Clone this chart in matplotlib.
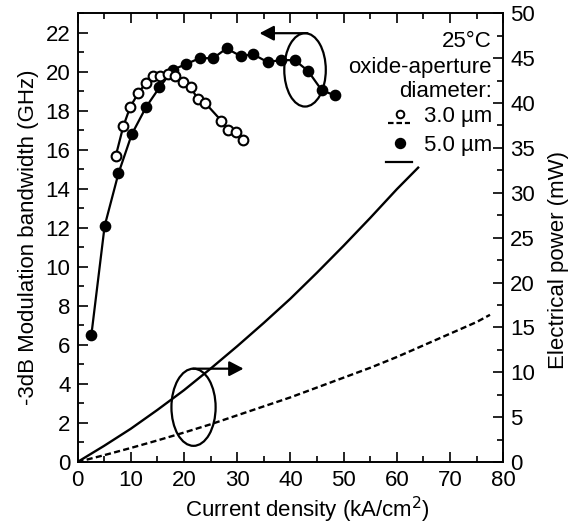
import matplotlib
matplotlib.use("Agg")
import matplotlib.pyplot as plt
from matplotlib.patches import Ellipse
from matplotlib.ticker import MultipleLocator

plt.rcParams['font.family'] = ['Liberation Sans', 'DejaVu Sans']
FS = 16

# ---- data: modulation bandwidth (left axis, GHz) ----
j_5um = [2.6, 5.1, 7.7, 10.2, 12.9, 15.4, 17.9, 20.4, 23.0, 25.5, 28.0, 30.7,
         33.0, 35.7, 38.2, 40.8, 43.3, 45.9, 48.3]
bw_5um = [6.5, 12.1, 14.8, 16.8, 18.2, 19.2, 20.1, 20.4, 20.7, 20.7, 21.2, 20.8,
          20.9, 20.5, 20.6, 20.6, 20.05, 19.05, 18.8]
j_3um = [7.2, 8.6, 9.9, 11.4, 12.9, 14.2, 15.5, 17.0, 18.4, 19.9, 21.3, 22.6,
         24.0, 27.0, 28.3, 29.7, 31.1]
bw_3um = [15.7, 17.2, 18.2, 18.9, 19.45, 19.8, 19.8, 19.9, 19.8, 19.5, 19.2,
          18.6, 18.4, 17.5, 17.0, 16.9, 16.5]

# ---- data: electrical power (right axis, mW) ----
jp_5um = [0, 5, 10, 15, 20, 25, 30, 35, 40, 45, 50, 55, 60, 64]
p_5um = [0, 1.8, 3.7, 5.8, 8.0, 10.4, 12.9, 15.5, 18.2, 21.1, 24.1, 27.2, 30.4, 32.8]
jp_3um = [0, 5, 10, 15, 20, 25, 30, 35, 40, 45, 50, 55, 60, 65, 70, 75, 77.5]
p_3um = [0, 0.76, 1.56, 2.4, 3.28, 4.2, 5.2, 6.2, 7.2, 8.3, 9.4, 10.5, 11.7,
         13.0, 14.3, 15.6, 16.4]

xticks = [0, 10, 20, 30, 40, 50, 60, 70, 80]
yticks_left = [0, 2, 4, 6, 8, 10, 12, 14, 16, 18, 20, 22]
yticks_right = [0, 5, 10, 15, 20, 25, 30, 35, 40, 45, 50]

fig = plt.figure(figsize=(5.77, 5.24), dpi=100)
ax = fig.add_axes([77.5/577, 1-462/524, (503.3-77.5)/577, (462-13.3)/524])
ax2 = ax.twinx()

ax.plot(j_5um, bw_5um, '-', color='k', lw=1.6, marker='o', ms=7.4,
        mfc='k', mec='k', zorder=3)
ax.plot(j_3um, bw_3um, '-', color='k', lw=1.6, marker='o', ms=7.0,
        mfc='white', mec='k', mew=1.5, zorder=4)

ax2.plot(jp_5um, p_5um, '-', color='k', lw=1.7)
ax2.plot(jp_3um, p_3um, '--', color='k', lw=1.7, dashes=(2.6, 1.4))

ax.set_xlim(0, 80)
ax.set_ylim(0, 23)
ax2.set_ylim(0, 50)
ax.set_xticks(xticks)
ax.set_yticks(yticks_left)
ax2.set_yticks(yticks_right)
ax.xaxis.set_minor_locator(MultipleLocator(5))
ax.yaxis.set_minor_locator(MultipleLocator(1))
ax2.yaxis.set_minor_locator(MultipleLocator(2.5))

ax.tick_params(which='both', direction='in', top=True, right=False,
               labelsize=FS, width=1.2)
ax.tick_params(which='major', length=7)
ax.tick_params(which='minor', length=4)
ax.tick_params(axis='x', pad=6)
ax.tick_params(axis='y', pad=5)
ax2.tick_params(which='both', direction='in', labelsize=FS, width=1.2, pad=5)
ax2.tick_params(which='major', length=7)
ax2.tick_params(which='minor', length=4)
for a in (ax, ax2):
    for s in a.spines.values():
        s.set_linewidth(1.2)

ax.set_xlabel('Current density (kA/cm$^2$)', fontsize=FS)
ax.xaxis.set_label_coords(0.539, -0.074)
ax.set_ylabel('-3dB Modulation bandwidth (GHz)', fontsize=FS, labelpad=5)
ax2.set_ylabel('Electrical power (mW)', fontsize=FS)
ax2.yaxis.set_label_coords(1.105, 0.45)

# ellipses and arrows
ax.add_patch(Ellipse((42.75, 20.1), 7.8, 3.76, fill=False, lw=1.6, ec='k', zorder=5))
ax.annotate('', xy=(34.2, 21.98), xytext=(43.2, 21.98),
            arrowprops=dict(arrowstyle='-|>,head_length=0.86,head_width=0.45',
                            mutation_scale=10, lw=1.6, color='k',
                            shrinkA=0, shrinkB=0))
ax2.add_patch(Ellipse((21.8, 6.1), 8.3, 8.6, fill=False, lw=1.6, ec='k', zorder=5))
ax2.annotate('', xy=(31.2, 10.4), xytext=(21.7, 10.4),
             arrowprops=dict(arrowstyle='-|>,head_length=0.86,head_width=0.45',
                             mutation_scale=10, lw=1.6, color='k',
                             shrinkA=0, shrinkB=0))

# annotation text / legend
tx = 0.973
T = ax.transAxes
ax.text(tx, 0.926, '25°C', transform=T, ha='right', va='baseline', fontsize=FS)
ax.text(tx, 0.868, 'oxide-aperture', transform=T, ha='right', va='baseline', fontsize=FS)
ax.text(tx, 0.814, 'diameter:', transform=T, ha='right', va='baseline', fontsize=FS)
ax.text(tx, 0.758, '3.0 µm', transform=T, ha='right', va='baseline', fontsize=FS)
ax.text(tx, 0.692, '5.0 µm', transform=T, ha='right', va='baseline', fontsize=FS)
ax.plot([0.757], [0.775], 'o', transform=T, ms=5.5, mfc='white', mec='k', mew=1.4)
ax.plot([0.729, 0.781], [0.755, 0.755], '--', transform=T, color='k', lw=1.6,
        dashes=(2.5, 1.3))
ax.plot([0.757], [0.712], 'o', transform=T, ms=7.2, mfc='k', mec='k')
ax.plot([0.724, 0.785], [0.669, 0.669], '-', transform=T, color='k', lw=1.6)

fig.savefig('out.png', dpi=100)
